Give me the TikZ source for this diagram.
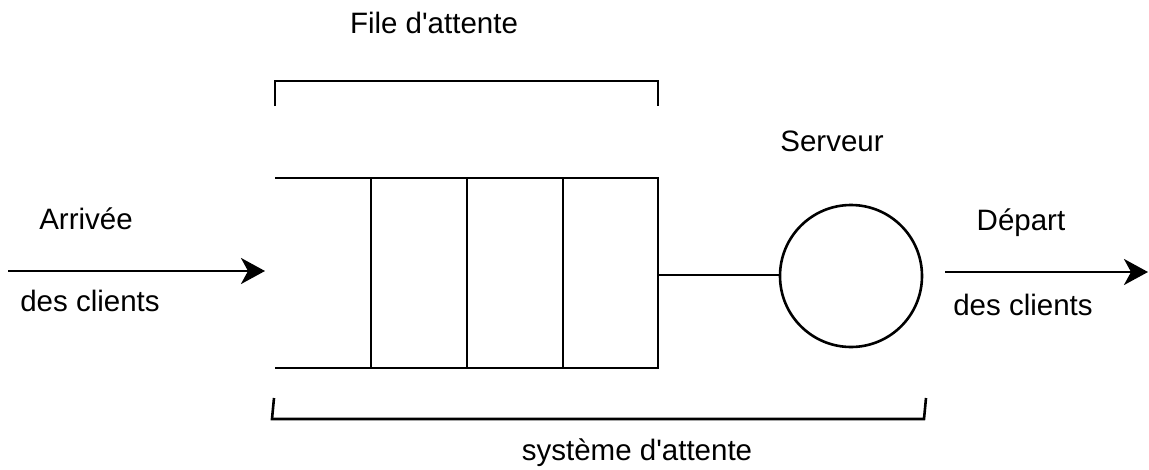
\documentclass[tikz,border=0pt]{standalone}
\usepackage{fontspec}
\setmainfont{Liberation Sans}
\usetikzlibrary{arrows.meta}
\begin{document}
\begin{tikzpicture}[x=1pt,y=-1pt,
  ln/.style={line width=2.6pt, line cap=butt, line join=miter},
  lbl/.style={font=\fontsize{29.5}{34}\selectfont, inner sep=0pt, anchor=center},
  tip/.style={-{Stealth[length=24pt,width=26pt,inset=7pt]}}]
\useasboundingbox (0,0) rectangle (1149,469);
% queue
\coordinate (qTL) at (275,178);
\coordinate (qTR) at (658,178);
\coordinate (qBL) at (275,368);
\coordinate (qBR) at (658,368);
\coordinate (qR) at (658,275);
\draw[ln] (qTL) -- (qTR) -- (qBR) -- (qBL);
\foreach \x in {371,467,563}{
  \draw[ln] (\x,178) -- (\x,368);
}
% server
\node[draw, circle, line width=2.6pt, minimum size=142pt, inner sep=0pt] (srv) at (851,276) {};
\draw[ln] (qR) -- (qR -| srv.west);
% arrows
\coordinate (inS) at (8,271);
\coordinate (inE) at (265,271);
\draw[ln, tip] (inS) -- (inE);
\coordinate (outS) at (945,272);
\coordinate (outE) at (1148,272);
\draw[ln, tip] (outS) -- (outE);
% brackets
\coordinate (b1a) at (275,106);
\coordinate (b1b) at (275,81);
\coordinate (b1c) at (658,81);
\coordinate (b1d) at (658,106);
\draw[ln] (b1a) -- (b1b) -- (b1c) -- (b1d);
\coordinate (b2a) at (274,398);
\coordinate (b2b) at (272,419);
\coordinate (b2c) at (924,419);
\coordinate (b2d) at (926,398);
\draw[ln] (b2a) -- (b2b) -- (b2c) -- (b2d);
% labels
\node[lbl] (tFile) at (434,23) {File d\textquotesingle attente};
\node[lbl] (tServ) at (832,141) {Serveur};
\node[lbl] (tArr) at (86,219) {Arrivée};
\node[lbl] (tDc1) at (90,301) {des clients};
\node[lbl] (tDep) at (1021,223) {Départ};
\node[lbl] (tDc2) at (1023,305) {des clients};
\node[lbl] (tSys) at (637,453) {système d\textquotesingle attente};
\end{tikzpicture}
\end{document}
